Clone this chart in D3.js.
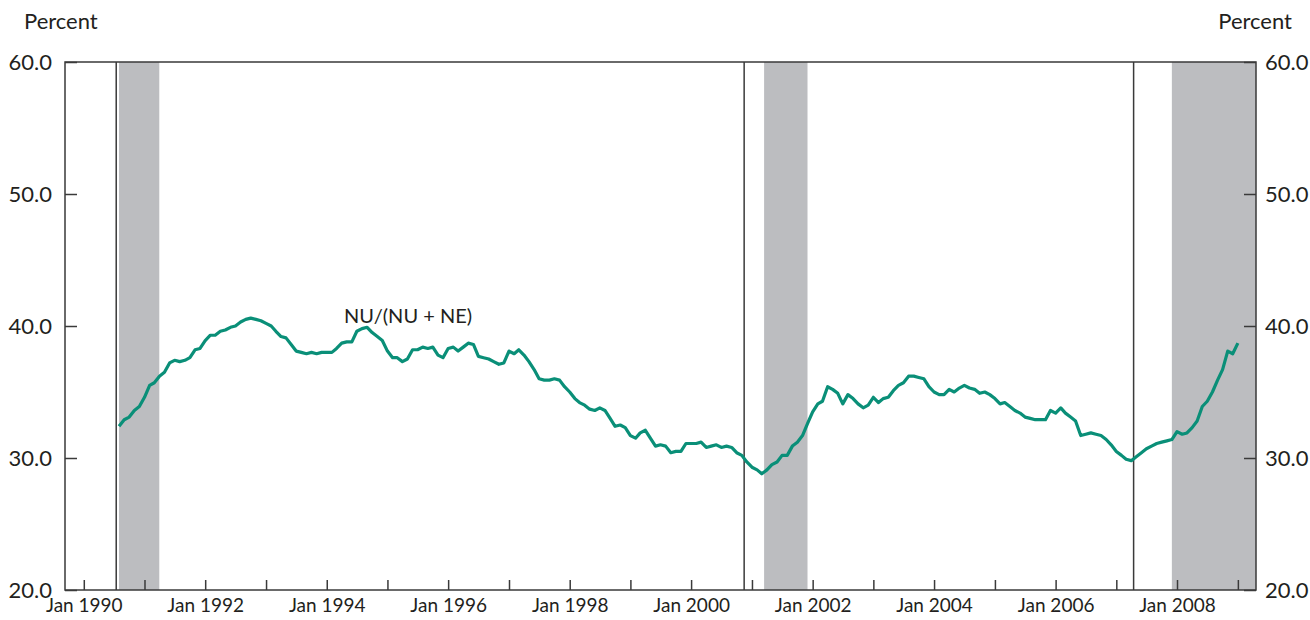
<!DOCTYPE html>
<html>
<head>
<meta charset="utf-8">
<script src="https://cdn.jsdelivr.net/npm/d3@7"></script>
<style>
  body { margin: 0; background: #fff; }
  svg text { font-family: Lato, "Open Sans", sans-serif; fill: #231f20; }
</style>
</head>
<body>
<svg id="chart" width="1310" height="620"></svg>
<script>
// ---- data ----
const seriesStart = "1990-08";           // first monthly observation
const seriesLabel = "NU/(NU + NE)";
const values = [
  32.4,32.9,33.1,33.6,33.9,34.6,35.5,35.7,36.2,36.5,37.2,37.4,37.3,37.4,37.6,38.2,38.3,38.9,39.3,39.3,
  39.6,39.7,39.9,40.0,40.3,40.5,40.6,40.5,40.4,40.2,40.0,39.6,39.2,39.1,38.6,38.1,38.0,37.9,38.0,37.9,
  38.0,38.0,38.0,38.3,38.7,38.8,38.8,39.6,39.8,39.9,39.5,39.2,38.9,38.1,37.6,37.6,37.3,37.5,38.2,38.2,
  38.4,38.3,38.4,37.8,37.6,38.3,38.4,38.1,38.4,38.7,38.6,37.7,37.6,37.5,37.3,37.1,37.2,38.1,37.9,38.2,
  37.8,37.3,36.7,36.0,35.9,35.9,36.0,35.9,35.4,35.0,34.5,34.2,34.0,33.7,33.6,33.8,33.6,33.0,32.4,32.5,
  32.3,31.7,31.5,31.9,32.1,31.5,30.9,31.0,30.9,30.4,30.5,30.5,31.1,31.1,31.1,31.2,30.8,30.9,31.0,30.8,
  30.9,30.8,30.4,30.2,29.7,29.3,29.1,28.8,29.1,29.5,29.7,30.2,30.2,30.9,31.2,31.7,32.6,33.5,34.1,34.3,
  35.4,35.2,34.9,34.1,34.8,34.5,34.1,33.8,34.0,34.6,34.2,34.5,34.6,35.1,35.5,35.7,36.2,36.2,36.1,36.0,
  35.4,35.0,34.8,34.8,35.2,35.0,35.3,35.5,35.3,35.2,34.9,35.0,34.8,34.5,34.1,34.2,33.9,33.6,33.4,33.1,
  33.0,32.9,32.9,32.9,33.6,33.4,33.8,33.4,33.1,32.8,31.7,31.8,31.9,31.8,31.7,31.4,31.0,30.5,30.2,29.9,
  29.8,30.1,30.4,30.7,30.9,31.1,31.2,31.3,31.4,32.0,31.8,31.9,32.3,32.8,33.9,34.3,35.0,35.9,36.7,38.1,
  37.9,38.7
];
const recessions = [
  ["1990-08-01", "1991-03-31"],
  ["2001-03-15", "2001-12-01"],
  ["2007-12-01", "2009-04-30"]
];
const markerDates = ["1990-07-15", "2000-11-15", "2007-04-15"];
const yTicks = [20, 30, 40, 50, 60];
const xTickYears = d3.range(1990, 2010);
const xLabelYears = [1990, 1992, 1994, 1996, 1998, 2000, 2002, 2004, 2006, 2008];
const yUnit = "Percent";

// ---- layout ----
const svg = d3.select("#chart");
const L = 65, R = 1256, T = 62, B = 590;
const parse = d3.utcParse("%Y-%m-%d");
const x = d3.scaleUtc()
  .domain([parse("1989-09-10"), parse("2009-04-20")])
  .range([L, R]);
const y = d3.scaleLinear().domain([20, 60]).range([B, T]);

const start = d3.utcParse("%Y-%m")(seriesStart);
const data = values.map((v, i) => ({ date: d3.utcMonth.offset(start, i), value: v }));

// recession shading
svg.append("g").selectAll("rect").data(recessions).join("rect")
  .attr("x", d => x(parse(d[0])))
  .attr("width", d => Math.min(x(parse(d[1])), R) - x(parse(d[0])))
  .attr("y", T).attr("height", B - T)
  .attr("fill", "#bcbdc0");

// marker lines
svg.append("g").selectAll("line").data(markerDates).join("line")
  .attr("x1", d => x(parse(d))).attr("x2", d => x(parse(d)))
  .attr("y1", T).attr("y2", B)
  .attr("stroke", "#3a3a3a").attr("stroke-width", 1.5);

// series line
svg.append("path").datum(data)
  .attr("fill", "none")
  .attr("stroke", "#0a8f78")
  .attr("stroke-width", 3.2)
  .attr("stroke-linejoin", "round")
  .attr("d", d3.line().x(d => x(d.date)).y(d => y(d.value)));

// frame
svg.append("rect").attr("x", L).attr("y", T).attr("width", R - L).attr("height", B - T)
  .attr("fill", "none").attr("stroke", "#3a3a3a").attr("stroke-width", 1.5);

// axes
const fmt = d3.format(".1f");
const yLeft = d3.axisLeft(y).tickValues(yTicks).tickSize(-12).tickPadding(13).tickFormat(fmt);
const yRight = d3.axisRight(y).tickValues(yTicks).tickSize(-12).tickPadding(9).tickFormat(fmt);
const gl = svg.append("g").attr("transform", `translate(${L},0)`).call(yLeft);
const gr = svg.append("g").attr("transform", `translate(${R},0)`).call(yRight);
[gl, gr].forEach(g => {
  g.select(".domain").remove();
  g.selectAll(".tick line").attr("stroke", "#3a3a3a").attr("stroke-width", 1.5);
  g.selectAll(".tick text").attr("font-size", 22).attr("fill", "#231f20").attr("dy", "0.35em");
});

const xAxis = d3.axisBottom(x)
  .tickValues(xTickYears.map(yr => new Date(Date.UTC(yr, 0, 1))))
  .tickSize(-10).tickPadding(9)
  .tickFormat(d => xLabelYears.includes(d.getUTCFullYear()) ? "Jan " + d.getUTCFullYear() : "");
const gx = svg.append("g").attr("transform", `translate(0,${B})`).call(xAxis);
gx.select(".domain").remove();
gx.selectAll(".tick line").attr("stroke", "#3a3a3a").attr("stroke-width", 1.5);
gx.selectAll(".tick text").attr("font-size", 19).attr("fill", "#231f20");

// unit labels
svg.append("text").attr("x", 24).attr("y", 29).attr("font-size", 22).text(yUnit);
svg.append("text").attr("x", 1292).attr("y", 29).attr("font-size", 22)
  .attr("text-anchor", "end").text(yUnit);

// series annotation
svg.append("text").attr("x", 344).attr("y", 323).attr("font-size", 20).text(seriesLabel);
</script>
</body>
</html>
